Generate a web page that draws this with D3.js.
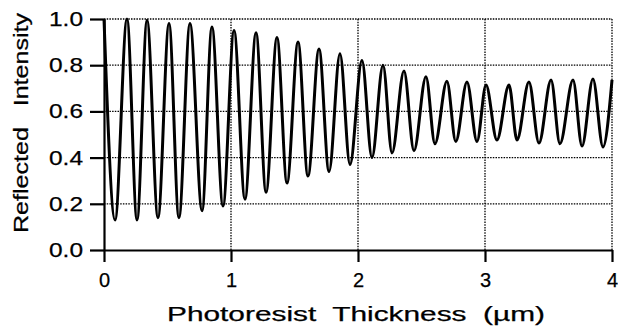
<!DOCTYPE html>
<html>
<head>
<meta charset="utf-8">
<script src="https://cdn.jsdelivr.net/npm/d3@7"></script>
<style>
body { margin: 0; background: #fff; }
text { font-family: "Liberation Sans", Arial, Helvetica, sans-serif; fill: #000; stroke: #000; stroke-width: 0.25px; }
</style>
</head>
<body>
<svg id="viz" width="618" height="332"></svg>
<script>
// turning points of the swing curve: resist thickness (um) and reflected intensity
var thickness = [0, 0.087, 0.181, 0.26, 0.339, 0.425, 0.512, 0.59, 0.677, 0.772, 0.85, 0.937,
                 1.024, 1.11, 1.197, 1.276, 1.362, 1.441, 1.528, 1.606, 1.693, 1.772, 1.858, 1.937,
                 2.031, 2.11, 2.197, 2.268, 2.362, 2.441, 2.535, 2.606, 2.70, 2.77, 2.858, 2.937,
                 3.008, 3.094, 3.189, 3.252, 3.346, 3.425, 3.52, 3.59, 3.693, 3.764, 3.85, 3.929, 4.0];
var intensity = [1.0, 0.13, 1.0, 0.13, 0.995, 0.14, 0.98, 0.14, 0.98, 0.17, 0.965, 0.19,
                 0.95, 0.22, 0.94, 0.25, 0.92, 0.29, 0.90, 0.32, 0.87, 0.34, 0.85, 0.37,
                 0.82, 0.40, 0.80, 0.42, 0.775, 0.43, 0.75, 0.46, 0.73, 0.47, 0.727, 0.47,
                 0.714, 0.476, 0.714, 0.476, 0.727, 0.463, 0.736, 0.46, 0.736, 0.45, 0.74, 0.446, 0.736];
var xTicks = [0, 1, 2, 3, 4];
var yTicks = [0, 0.2, 0.4, 0.6, 0.8, 1.0];

var svg = d3.select("#viz");

var x = d3.scaleLinear().domain([0, 4]).range([104, 612]);
var y = d3.scaleLinear().domain([0, 1]).range([250, 19]);

// dotted grid, top and right edges included
svg.append("g").selectAll("line")
    .data(yTicks.slice(1))
    .enter().append("line")
    .attr("x1", x(0)).attr("x2", x(4))
    .attr("y1", d => y(d)).attr("y2", d => y(d))
    .attr("stroke", "#000").attr("stroke-width", 1.3)
    .attr("stroke-dasharray", "1.5,1.2");

svg.append("g").selectAll("line")
    .data(xTicks.slice(1))
    .enter().append("line")
    .attr("x1", d => x(d)).attr("x2", d => x(d))
    .attr("y1", y(0)).attr("y2", y(1))
    .attr("stroke", "#000").attr("stroke-width", 1.3)
    .attr("stroke-dasharray", "1.5,1.2");

// axes
var yAxis = svg.append("g")
    .attr("transform", "translate(" + x(0) + ",0)")
    .call(d3.axisLeft(y).tickValues(yTicks).tickFormat(d3.format(".1f"))
        .tickSize(14).tickSizeOuter(0).tickPadding(7));

var xAxis = svg.append("g")
    .attr("transform", "translate(0," + y(0) + ")")
    .call(d3.axisBottom(x).tickValues(xTicks).tickFormat(d3.format("d"))
        .tickSize(12).tickSizeOuter(0).tickPadding(11));

[yAxis, xAxis].forEach(function(g) {
    g.select(".domain").attr("stroke", "#000").attr("stroke-width", 2.2);
    g.selectAll(".tick line").attr("stroke", "#000").attr("stroke-width", 2.2);
    g.selectAll(".tick text")
        .attr("font-family", null)
        .attr("font-size", 20)
        .attr("fill", "#000");
});
yAxis.selectAll(".tick text")
    .attr("textLength", 34)
    .attr("lengthAdjust", "spacingAndGlyphs");

// the reflectance curve
var line = d3.line()
    .x((d, i) => x(thickness[i]))
    .y(d => y(d))
    .curve(d3.curveMonotoneX);

svg.append("path")
    .datum(intensity)
    .attr("d", line)
    .attr("fill", "none")
    .attr("stroke", "#000")
    .attr("stroke-width", 3)
    .attr("stroke-linejoin", "round");

// axis titles
svg.append("text")
    .attr("transform", "translate(28,123) rotate(-90)")
    .attr("text-anchor", "middle")
    .attr("font-size", 21)
    .attr("textLength", 220)
    .attr("lengthAdjust", "spacingAndGlyphs")
    .attr("xml:space", "preserve")
    .text("Reflected   Intensity");

svg.append("text")
    .attr("x", 356)
    .attr("y", 321)
    .attr("text-anchor", "middle")
    .attr("font-size", 20)
    .attr("textLength", 378)
    .attr("lengthAdjust", "spacingAndGlyphs")
    .attr("xml:space", "preserve")
    .text("Photoresist  Thickness  (\u00b5m)");
</script>
</body>
</html>
